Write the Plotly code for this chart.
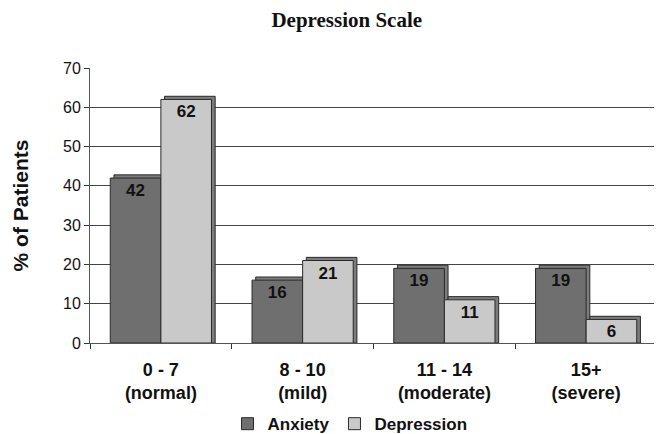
import plotly.graph_objects as go

categories = ["0 - 7<br>(normal)", "8 - 10<br>(mild)", "11 - 14<br>(moderate)", "15+<br>(severe)"]
anxiety = [42, 16, 19, 19]
depression = [62, 21, 11, 6]
y_ticks = [0, 10, 20, 30, 40, 50, 60, 70]

BAR_W = 0.357      # bar width in category units
DEPTH_X = 0.026    # 3-D depth shift (category units)
DEPTH_Y = 0.8      # 3-D depth shift (value units)
series = [("Anxiety", anxiety, "#6f6f6f", -BAR_W), ("Depression", depression, "#c9c9c9", 0.0)]

fig = go.Figure()
# 3-D depth (side/top faces) drawn behind the front faces
for name, vals, col, off in series:
    fig.add_trace(go.Bar(
        x=categories, y=[v + DEPTH_Y for v in vals], width=BAR_W, offset=off + DEPTH_X,
        marker=dict(color="#7c7c7c", line=dict(color="#2a2a2a", width=1)),
        showlegend=False, hoverinfo="skip",
    ))
for name, vals, col, off in series:
    fig.add_trace(go.Bar(
        name="<b>" + name + "</b>", x=categories, y=vals, width=BAR_W, offset=off,
        marker=dict(color=col, line=dict(color="#2a2a2a", width=1)),
        text=[str(v) for v in vals], texttemplate="<b>%{text}</b>",
        textposition="inside", insidetextanchor="end", constraintext="none", textangle=0,
        textfont=dict(family="Liberation Sans", size=17, color="#111111"),
    ))

fig.update_layout(
    width=654, height=426,
    margin=dict(l=82, r=5, t=60, b=91, autoexpand=False),
    paper_bgcolor="white", plot_bgcolor="white",
    barmode="overlay",
    title=dict(text="<b>Depression Scale</b>", x=0.518, xanchor="center", y=1.0, yanchor="top",
               pad=dict(t=4),
               font=dict(family="Liberation Serif", size=21, color="#111111")),
    showlegend=True,
    legend=dict(orientation="h", x=0.4586, xanchor="center", y=-0.295, yanchor="middle",
                font=dict(family="Liberation Sans", size=17, color="#111111"),
                traceorder="normal", itemwidth=30, tracegroupgap=0),
)
fig.update_xaxes(
    type="category", tickson="boundaries", ticks="outside", ticklen=5, tickcolor="#333333",
    showline=True, linecolor="#555555", linewidth=1,
    tickfont=dict(family="Liberation Sans", size=18, color="#111111"),
    tickprefix="<b>", ticksuffix="</b>", ticklabelstandoff=10,
    showgrid=False, automargin=False,
)
fig.update_yaxes(
    range=[0, 70], tickvals=y_ticks, ticks="outside", ticklen=5, tickcolor="#333333",
    showline=True, linecolor="#555555", linewidth=1,
    showgrid=True, gridcolor="#444444", gridwidth=1,
    tickfont=dict(family="Liberation Sans", size=16, color="#111111"),
    tickprefix="<b>", ticksuffix="</b>",
    title=dict(text="<b>% of Patients</b>", font=dict(family="Liberation Sans", size=21, color="#111111"), standoff=28),
    zeroline=False, automargin=False,
)

fig.write_html("out.html")
